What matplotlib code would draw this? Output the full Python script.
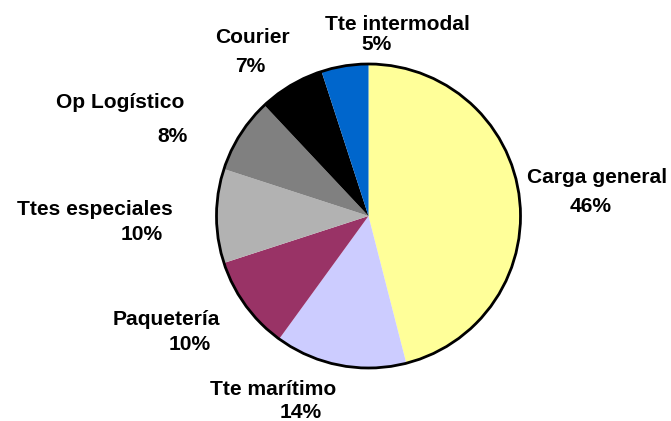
import matplotlib
matplotlib.use("Agg")
import matplotlib.pyplot as plt
from matplotlib.patches import Circle

# data (clockwise from 12 o'clock)
categories = ["Carga general", "Tte marítimo", "Paquetería", "Ttes especiales",
              "Op Logístico", "Courier", "Tte intermodal"]
shares = [46, 14, 10, 10, 8, 7, 5]
colors = ["#FFFF99", "#CCCCFF", "#993366", "#B2B2B2", "#808080", "#000000", "#0066CC"]

# label layout in pixels: (name x, name baseline, pct x, pct baseline)
label_pos = [
    (597, 183, 591, 212),
    (273, 395, 301, 418),
    (166, 325, 190, 350),
    (95, 215, 142, 240),
    (120, 108, 172, 142),
    (252, 43, 250, 72),
    (397, 30, 377, 50),
]

W, H = 671, 421
plt.rcParams['font.family'] = ['Liberation Sans', 'DejaVu Sans']
fig = plt.figure(figsize=(W / 100, H / 100), dpi=100)

cx, cy, r = 368.5, 216, 152
pad = 1.01
ax = fig.add_axes([(cx - r * pad) / W, (H - cy - r * pad) / H, 2 * r * pad / W, 2 * r * pad / H])
ax.pie(shares, colors=colors, startangle=90, counterclock=False,
       wedgeprops=dict(linewidth=0))
# outer outline only, slices have no borders
ax.add_patch(Circle((0, 0), 1.0, fill=False, edgecolor="black", linewidth=2))
ax.set_xlim(-pad, pad)
ax.set_ylim(-pad, pad)
ax.set_aspect("equal")
ax.axis("off")

for name, val, (nx, ny, px, py) in zip(categories, shares, label_pos):
    fig.text(nx / W, 1 - ny / H, name, ha="center", va="baseline",
             fontsize=15.1, fontweight="bold")
    fig.text(px / W, 1 - py / H, f"{val}%", ha="center", va="baseline",
             fontsize=15.1, fontweight="bold")

fig.savefig("out.png", dpi=100)
